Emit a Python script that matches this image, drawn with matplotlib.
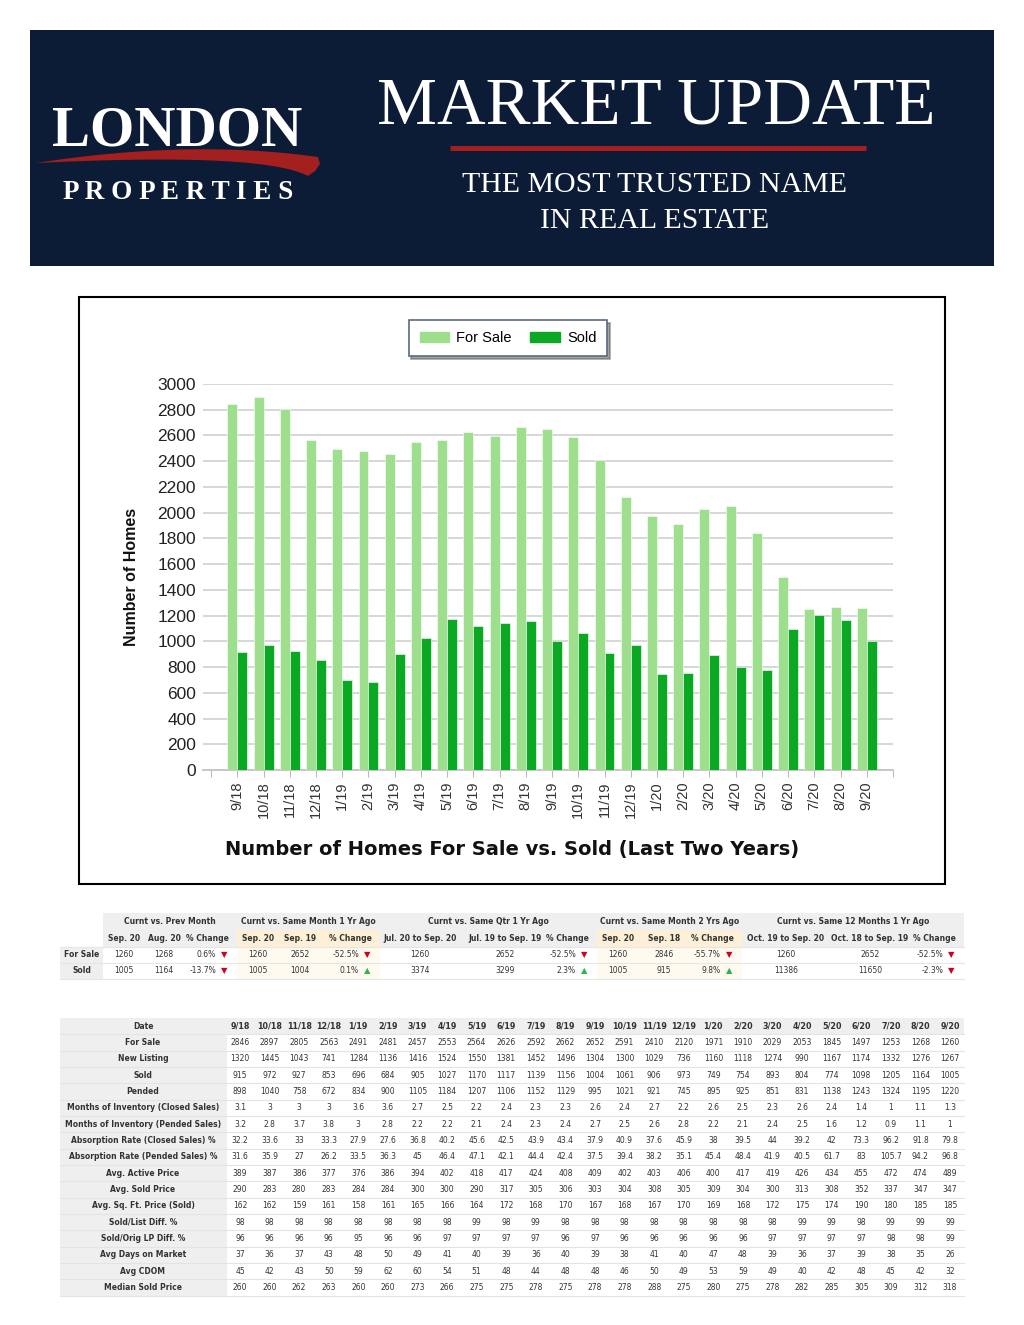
import matplotlib
matplotlib.use('Agg')
import matplotlib.pyplot as plt
from matplotlib.patches import Rectangle, Polygon, Patch
import numpy as np

W, H = 1024, 1325
NAVY = '#0c1c36'
RED = '#a3201f'
LIGHT = '#9ddf8c'
DARK = '#0aa823'
TXT = '#333333'
GRAYBG = '#efefef'

# ---- data ----
months = ['9/18', '10/18', '11/18', '12/18', '1/19', '2/19', '3/19', '4/19', '5/19',
          '6/19', '7/19', '8/19', '9/19', '10/19', '11/19', '12/19', '1/20', '2/20',
          '3/20', '4/20', '5/20', '6/20', '7/20', '8/20', '9/20']
for_sale = [2846, 2897, 2805, 2563, 2491, 2481, 2457, 2553, 2564, 2626, 2592, 2662, 2652,
            2591, 2410, 2120, 1971, 1910, 2029, 2053, 1845, 1497, 1253, 1268, 1260]
sold = [915, 972, 927, 853, 696, 684, 905, 1027, 1170, 1117, 1139, 1156, 1004,
        1061, 906, 973, 749, 754, 893, 804, 774, 1098, 1205, 1164, 1005]
new_listing = [1320, 1445, 1043, 741, 1284, 1136, 1416, 1524, 1550, 1381, 1452, 1496, 1304,
               1300, 1029, 736, 1160, 1118, 1274, 990, 1167, 1174, 1332, 1276, 1267]
pended = [898, 1040, 758, 672, 834, 900, 1105, 1184, 1207, 1106, 1152, 1129, 995,
          1021, 921, 745, 895, 925, 851, 831, 1138, 1243, 1324, 1195, 1220]
moi_closed = [3.1, 3, 3, 3, 3.6, 3.6, 2.7, 2.5, 2.2, 2.4, 2.3, 2.3, 2.6,
              2.4, 2.7, 2.2, 2.6, 2.5, 2.3, 2.6, 2.4, 1.4, 1, 1.1, 1.3]
moi_pended = [3.2, 2.8, 3.7, 3.8, 3, 2.8, 2.2, 2.2, 2.1, 2.4, 2.3, 2.4, 2.7,
              2.5, 2.6, 2.8, 2.2, 2.1, 2.4, 2.5, 1.6, 1.2, 0.9, 1.1, 1]
abs_closed = [32.2, 33.6, 33, 33.3, 27.9, 27.6, 36.8, 40.2, 45.6, 42.5, 43.9, 43.4, 37.9,
              40.9, 37.6, 45.9, 38, 39.5, 44, 39.2, 42, 73.3, 96.2, 91.8, 79.8]
abs_pended = [31.6, 35.9, 27, 26.2, 33.5, 36.3, 45, 46.4, 47.1, 42.1, 44.4, 42.4, 37.5,
              39.4, 38.2, 35.1, 45.4, 48.4, 41.9, 40.5, 61.7, 83, 105.7, 94.2, 96.8]
avg_active = [389, 387, 386, 377, 376, 386, 394, 402, 418, 417, 424, 408, 409,
              402, 403, 406, 400, 417, 419, 426, 434, 455, 472, 474, 489]
avg_sold = [290, 283, 280, 283, 284, 284, 300, 300, 290, 317, 305, 306, 303,
            304, 308, 305, 309, 304, 300, 313, 308, 352, 337, 347, 347]
avg_sqft = [162, 162, 159, 161, 158, 161, 165, 166, 164, 172, 168, 170, 167,
            168, 167, 170, 169, 168, 172, 175, 174, 190, 180, 185, 185]
sold_list = [98, 98, 98, 98, 98, 98, 98, 98, 99, 98, 99, 98, 98,
             98, 98, 98, 98, 98, 98, 99, 99, 98, 99, 99, 99]
sold_orig = [96, 96, 96, 96, 95, 96, 96, 97, 97, 97, 97, 96, 97,
             96, 96, 96, 96, 96, 97, 97, 97, 97, 98, 98, 99]
avg_dom = [37, 36, 37, 43, 48, 50, 49, 41, 40, 39, 36, 40, 39,
           38, 41, 40, 47, 48, 39, 36, 37, 39, 38, 35, 26]
avg_cdom = [45, 42, 43, 50, 59, 62, 60, 54, 51, 48, 44, 48, 48,
            46, 50, 49, 53, 59, 49, 40, 42, 48, 45, 42, 32]
median_sold = [260, 260, 262, 263, 260, 260, 273, 266, 275, 275, 278, 275, 278,
               278, 288, 275, 280, 275, 278, 282, 285, 305, 309, 312, 318]

row_labels = ['For Sale', 'New Listing', 'Sold', 'Pended', 'Months of Inventory (Closed Sales)',
              'Months of Inventory (Pended Sales)', 'Absorption Rate (Closed Sales) %',
              'Absorption Rate (Pended Sales) %', 'Avg. Active Price', 'Avg. Sold Price',
              'Avg. Sq. Ft. Price (Sold)', 'Sold/List Diff. %', 'Sold/Orig LP Diff. %',
              'Avg Days on Market', 'Avg CDOM', 'Median Sold Price']
row_values = [for_sale, new_listing, sold, pended, moi_closed, moi_pended, abs_closed,
              abs_pended, avg_active, avg_sold, avg_sqft, sold_list, sold_orig,
              avg_dom, avg_cdom, median_sold]

# summary table
sum_groups = ['Curnt vs. Prev Month', 'Curnt vs. Same Month 1 Yr Ago', 'Curnt vs. Same Qtr 1 Yr Ago',
              'Curnt vs. Same Month 2 Yrs Ago', 'Curnt vs. Same 12 Months 1 Yr Ago']
sum_cur_label = ['Sep. 20', 'Sep. 20', 'Jul. 20 to Sep. 20', 'Sep. 20', 'Oct. 19 to Sep. 20']
sum_prev_label = ['Aug. 20', 'Sep. 19', 'Jul. 19 to Sep. 19', 'Sep. 18', 'Oct. 18 to Sep. 19']
fs_cur = [1260, 1260, 1260, 1260, 1260]
fs_prev = [1268, 2652, 2652, 2846, 2652]
fs_pct = [0.6, -52.5, -52.5, -55.7, -52.5]
fs_up = [False, False, False, False, False]
sd_cur = [1005, 1005, 3374, 1005, 11386]
sd_prev = [1164, 1004, 3299, 915, 11650]
sd_pct = [-13.7, 0.1, 2.3, 9.8, -2.3]
sd_up = [False, True, True, True, False]

fig = plt.figure(figsize=(W / 100, H / 100), dpi=100)
fig.patch.set_facecolor('white')

# overlay in pixel coords
ov = fig.add_axes([0, 0, 1, 1])
ov.set_xlim(0, W)
ov.set_ylim(H, 0)
ov.axis('off')

# ---- header ----
ov.add_patch(Rectangle((30, 30), 964, 236, facecolor=NAVY, edgecolor='none'))
ov.text(177, 145, 'LONDON', color='white', fontsize=41, fontweight='bold',
        family='Liberation Serif', ha='center', va='baseline')
t = np.linspace(0, 1, 60)[:, None]
def bez(p0, p1, p2):
    p0, p1, p2 = map(np.array, (p0, p1, p2))
    return (1 - t) ** 2 * p0 + 2 * (1 - t) * t * p1 + t ** 2 * p2
upper = bez((36, 163), (190, 139), (318, 157))
lower = bez((308, 176), (262, 152), (36, 163))
cap = np.array([[320, 164], [315, 171]])
ov.add_patch(Polygon(np.vstack([upper, cap, lower]), closed=True, facecolor=RED, edgecolor='none'))
ov.text(178, 199, 'P R O P E R T I E S', color='white', fontsize=19.5, fontweight='bold',
        family='Liberation Serif', ha='center', va='baseline')
ov.text(656, 124, 'MARKET UPDATE', color='white', fontsize=48.5,
        family='Liberation Serif', ha='center', va='baseline')
ov.plot([450, 866], [148, 148], color=RED, lw=3.6, solid_capstyle='butt')
ov.text(655, 192, 'THE MOST TRUSTED NAME', color='white', fontsize=21.5,
        family='Liberation Serif', ha='center', va='baseline')
ov.text(655, 228, 'IN REAL ESTATE', color='white', fontsize=21.5,
        family='Liberation Serif', ha='center', va='baseline')

# ---- chart ----
ov.add_patch(Rectangle((79, 297), 866, 587, fill=False, edgecolor='black', lw=1.5))
ax = fig.add_axes([203 / W, 1 - 770 / H, 690 / W, 386 / H])
ax.set_facecolor('none')
x = np.arange(len(months))
bw = 0.38
ax.bar(x - bw / 2, for_sale, bw, color=LIGHT, edgecolor='white', lw=0.4, label='For Sale', zorder=3)
ax.bar(x + bw / 2, sold, bw, color=DARK, edgecolor='white', lw=0.4, label='Sold', zorder=3)
ax.set_ylim(0, 3000)
ax.set_xlim(-1.31, 24.92)
ax.set_yticks(np.arange(0, 3001, 200))
ax.set_xticks(np.arange(-1, 26))
ax.set_xticklabels([''] + months + [''], rotation=90, fontsize=10.5, family='Liberation Sans', color=TXT)
ax.tick_params(axis='x', length=5, color='#bbbbbb', pad=3)
ax.tick_params(axis='y', length=0, pad=5, labelsize=12.5, labelcolor='#222222')
for lab in ax.get_yticklabels():
    lab.set_family('Liberation Sans')
ax.grid(axis='y', color='#d4d4d4', lw=1.3, zorder=0)
for s in ['top', 'right', 'left']:
    ax.spines[s].set_visible(False)
ax.spines['bottom'].set_color('#c4c4c4')
ax.spines['bottom'].set_linewidth(1.3)

leg = fig.legend(handles=[Patch(color=LIGHT, label='For Sale'), Patch(color=DARK, label='Sold')],
                 loc='center', bbox_to_anchor=(508 / W, 1 - 338 / H), ncol=2, frameon=True,
                 fancybox=False, shadow=True, edgecolor='#5a6a80', handlelength=2.0,
                 handleheight=0.75, handletextpad=0.5, columnspacing=1.3, borderpad=0.75,
                 prop={'family': 'Liberation Sans', 'size': 10.5})
leg.get_frame().set_linewidth(1.2)

ov.text(131, 577, 'Number of Homes', rotation=90, fontsize=11.5, fontweight='bold',
        family='Liberation Sans', ha='center', va='center', color='#111111')
ov.text(512, 849, 'Number of Homes For Sale vs. Sold (Last Two Years)', fontsize=14,
        fontweight='bold', family='DejaVu Sans', ha='center', va='center', color='#111111')

# ---- summary table ----
FS = 5.5
g_span = [(103, 237), (237, 380), (380, 597), (597, 742), (742, 964)]
g_cols = [(124, 164), (258, 300), (420, 505), (618, 664), (786, 870)]
highlight = [False, True, False, True, False]
r_top = [913, 930, 946.5, 962.5]
r_h = [17, 16.5, 16, 16]

# label column cells
for r in (2, 3):
    ov.add_patch(Rectangle((60, r_top[r]), 43, r_h[r], facecolor=GRAYBG, edgecolor='none'))
ov.add_patch(Rectangle((103, r_top[0]), 861, r_h[0], facecolor=GRAYBG, edgecolor='none'))
for gi, (a, b) in enumerate(g_span):
    sub_bg = '#fdf0d6' if highlight[gi] else GRAYBG
    dat_bg = '#fffaef' if highlight[gi] else 'white'
    ov.add_patch(Rectangle((a, r_top[1]), b - a, r_h[1], facecolor=sub_bg, edgecolor='none'))
    ov.add_patch(Rectangle((a, r_top[2]), b - a, r_h[2] + r_h[3], facecolor=dat_bg, edgecolor='none'))
    yc = [r_top[i] + r_h[i] / 2 for i in range(4)]
    ov.text((a + b) / 2, yc[0], sum_groups[gi], fontsize=FS, fontweight='bold', ha='center', va='center', color=TXT)
    ov.text(g_cols[gi][0], yc[1], sum_cur_label[gi], fontsize=FS, fontweight='bold', ha='center', va='center', color=TXT)
    ov.text(g_cols[gi][1], yc[1], sum_prev_label[gi], fontsize=FS, fontweight='bold', ha='center', va='center', color=TXT)
    ov.text(b - 8, yc[1], '% Change', fontsize=FS, fontweight='bold', ha='right', va='center', color=TXT)
    rows = [(fs_cur, fs_prev, fs_pct, fs_up), (sd_cur, sd_prev, sd_pct, sd_up)]
    for k, (cur, prev, pct, up) in enumerate(rows):
        y = yc[2 + k]
        ov.text(g_cols[gi][0], y, str(cur[gi]), fontsize=FS, ha='center', va='center', color=TXT)
        ov.text(g_cols[gi][1], y, str(prev[gi]), fontsize=FS, ha='center', va='center', color=TXT)
        ov.text(b - 21, y, '{:g}%'.format(pct[gi]), fontsize=FS, ha='right', va='center', color=TXT)
        ov.text(b - 10, y, '\u25b2' if up[gi] else '\u25bc', fontsize=FS + 0.5, ha='right', va='center',
                color='#2db34a' if up[gi] else '#d0021b')
ov.text(82, r_top[2] + r_h[2] / 2, 'For Sale', fontsize=FS, fontweight='bold', ha='center', va='center', color=TXT)
ov.text(82, r_top[3] + r_h[3] / 2, 'Sold', fontsize=FS, fontweight='bold', ha='center', va='center', color=TXT)
for yy in (r_top[2], r_top[3], r_top[3] + r_h[3]):
    ov.plot([60, 964], [yy, yy], color='#e6e6e6', lw=0.8)

# ---- detail table ----
top, rh = 1018, 16.33
n_rows = len(row_labels) + 1
ov.add_patch(Rectangle((60, top), 904, rh, facecolor=GRAYBG, edgecolor='none'))
ov.add_patch(Rectangle((60, top), 167, rh * n_rows, facecolor=GRAYBG, edgecolor='none'))
col_x = 240 + np.arange(len(months)) * (950 - 240) / (len(months) - 1)
ov.text(143, top + rh / 2, 'Date', fontsize=FS, fontweight='bold', ha='center', va='center', color=TXT)
for j, m in enumerate(months):
    ov.text(col_x[j], top + rh / 2, m, fontsize=FS + 0.3, fontweight='bold', ha='center', va='center', color=TXT)
for i, (lab, vals) in enumerate(zip(row_labels, row_values)):
    y = top + rh * (i + 1) + rh / 2
    ov.text(143, y, lab, fontsize=FS, fontweight='bold', ha='center', va='center', color=TXT)
    for j, v in enumerate(vals):
        ov.text(col_x[j], y, '{:g}'.format(v), fontsize=FS, ha='center', va='center', color=TXT)
for i in range(1, n_rows + 1):
    yy = top + rh * i
    ov.plot([60, 964], [yy, yy], color='#e4e4e4', lw=0.8)

fig.savefig('out.png', dpi=100)
